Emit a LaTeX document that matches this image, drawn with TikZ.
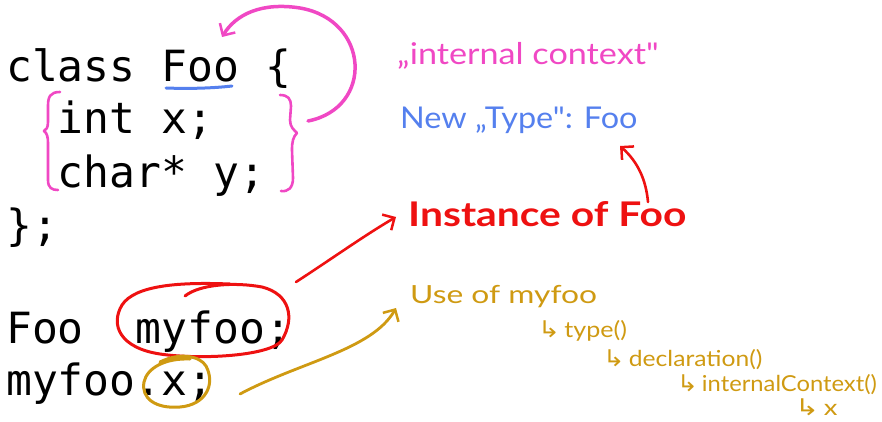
\documentclass[tikz,border=0pt]{standalone}
\usepackage{fontspec}
\usetikzlibrary{arrows.meta}
\setmonofont{DejaVu Sans Mono}
\newfontfamily\hand{Lato}
\newfontfamily\handbold{Lato Bold}
\newfontfamily\symb{DejaVu Sans}

\definecolor{inkpink}{HTML}{F048C4}
\definecolor{inkblue}{HTML}{5580EE}
\definecolor{inkred}{HTML}{EE1111}
\definecolor{inkgold}{HTML}{CF9A12}

% hooked arrow in front of each step of the lookup chain
\newcommand{\hook}{\smash{\symb\fontsize{23}{23}\selectfont\char"21B3}\,}
% widened handwriting
\newcommand{\wide}[2]{\scalebox{#1}[1]{#2}}

\tikzset{
  code/.style={anchor=base west, inner sep=0pt, font=\ttfamily\fontsize{43}{52}\selectfont},
  note/.style={anchor=base west, inner sep=0pt},
  chain/.style={note, text=inkgold, font=\hand\fontsize{22}{24}\selectfont},
  pen/.style={line width=3pt, line cap=round, line join=round},
  barb/.style={-{Straight Barb[length=9pt,width=18pt,line width=2.5pt]}},
}

\begin{document}
\begin{tikzpicture}[x=1pt,y=-1pt]
\useasboundingbox (0,0) rectangle (882,422);

% source code
\node[code] (l1) at (6,82)  {class Foo \{};
\node[code] (l2) at (6,134) {\ \ int x;};
\node[code] (l3) at (6,187) {\ \ char* y;};
\node[code] (l4) at (6,240) {\};};
\node[code] (l5) at (6,343) {Foo\ \ myfoo;};
\node[code] (l6) at (6,395) {myfoo.x;};

% handwritten notes
\node[note, text=inkpink, font=\hand\fontsize{30}{32}\selectfont] (ctx) at (397,65) {\wide{1.14}{„internal context"}};
\node[note, text=inkblue, font=\hand\fontsize{30}{32}\selectfont] (newtype) at (400,129) {\wide{1.08}{New „Type": Foo}};
\node[note, text=inkred, font=\handbold\fontsize{34}{36}\selectfont] (inst) at (408,226) {\wide{1.2}{Instance of Foo}};
\node[note, text=inkgold, font=\hand\fontsize{25}{27}\selectfont] (use) at (410,303) {\wide{1.27}{Use of myfoo}};
\node[chain] (t1) at (538,337) {\wide{1.14}{\hook type()}};
\node[chain] (t2) at (603,366) {\wide{1.12}{\hook declaration()}};
\node[chain] (t3) at (677,391) {\wide{1.08}{\hook internalContext()}};
\node[chain] (t4) at (795,415) {\wide{1.25}{\hook x}};

% anchor points for the annotations
\coordinate (fooL) at (166,88);
\coordinate (fooR) at (232,86);
\coordinate (braceEnd) at (308,121);
\coordinate (fooTop) at (222,37);
\coordinate (myfooOut) at (296,282);
\coordinate (instIn) at (396,217);
\coordinate (instFoo) at (648,202);
\coordinate (typeFoo) at (620,146);
\coordinate (dotxOut) at (240,394);
\coordinate (useIn) at (396,308);

% underline of the class name
\draw[pen, inkblue] (fooL) .. controls (190,89) and (215,88) .. (fooR);

% braces around the members
\draw[pen, inkpink, line width=2.6pt]
  (60,92) .. controls (50,92) and (48,97) .. (48,106) -- (48,122)
  .. controls (48,128) and (46,130) .. (44,131)
  .. controls (47,133) and (48,137) .. (48,143) -- (48,180)
  .. controls (48,188) and (52,190) .. (58,190);
\draw[pen, inkpink, line width=2.6pt]
  (280,95) .. controls (288,95) and (291,99) .. (291,106) -- (290,120)
  .. controls (290,127) and (294,130) .. (297,133)
  .. controls (293,137) and (292,142) .. (292,150) -- (293,178)
  .. controls (293,188) and (288,192) .. (281,191);

% scope arrow back to the class name
\draw[pen, inkpink, line width=3.5pt, barb]
  (braceEnd) .. controls (374,108) and (370,20) .. (300,8)
  .. controls (262,2) and (236,14) .. (fooTop);

% circled instance and member access
\draw[pen, inkred]
  (185,296) .. controls (200,284) and (235,282) .. (262,287)
  .. controls (290,294) and (295,318) .. (282,340)
  .. controls (272,356) and (200,360) .. (160,354)
  .. controls (120,348) and (110,325) .. (122,305)
  .. controls (135,285) and (180,282) .. (230,284);
\draw[pen, inkgold]
  (160,362) .. controls (180,352) and (200,356) .. (206,366)
  .. controls (216,385) and (205,405) .. (180,407)
  .. controls (155,409) and (141,398) .. (144,382)
  .. controls (147,368) and (165,358) .. (190,359);

% pointers to the notes
\draw[pen, inkred, line width=2.6pt, barb] (myfooOut) .. controls (330,260) and (365,235) .. (instIn);
\draw[pen, inkred, line width=2.6pt, barb] (instFoo) .. controls (646,180) and (638,162) .. (typeFoo);
\draw[pen, inkgold, line width=2.8pt, barb] (dotxOut) .. controls (300,362) and (372,350) .. (useIn);
\end{tikzpicture}
\end{document}
